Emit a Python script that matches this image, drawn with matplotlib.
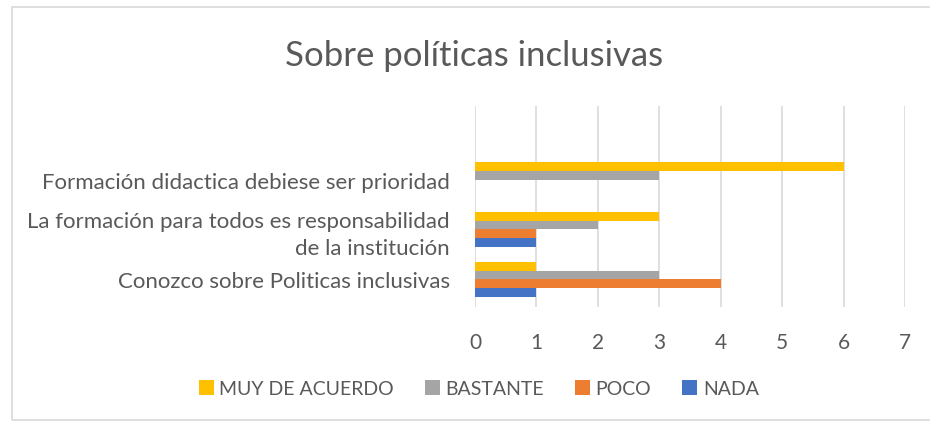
import numpy as np
import matplotlib.pyplot as plt
from matplotlib.patches import Rectangle

plt.rcParams['font.family'] = ['Lato', 'DejaVu Sans']

# Data (categories bottom to top)
categories = [
    "Conozco sobre Politicas inclusivas",
    "La formación para todos es responsabilidad\nde la institución",
    "Formación didactica debiese ser prioridad",
]
series = ["MUY DE ACUERDO", "BASTANTE", "POCO", "NADA"]
muy = [1, 3, 6]
bastante = [3, 2, 3]
poco = [4, 1, 0]
nada = [1, 1, 0]
values = [muy, bastante, poco, nada]
colors = ["#FFC000", "#A5A5A5", "#ED7D31", "#4472C4"]

fig = plt.figure(figsize=(9.3, 4.27), dpi=100)
ax = fig.add_axes([0.5108, 0.2787, 0.4623, 0.4707])

y = np.arange(len(categories))
h = 0.175
offsets = [1.5, 0.5, -0.5, -1.5]
for vals, off, col, name in zip(values, offsets, colors, series):
    ax.barh(y + off * h, vals, height=h, color=col, label=name, zorder=3)

ax.set_xlim(0, 7)
ax.set_ylim(-0.55, 3.47)
ax.set_xticks(range(0, 8))
ax.set_yticks(y)
ax.set_yticklabels(categories, fontsize=16, color="#595959", linespacing=1.4)
ax.tick_params(axis='x', labelsize=15, colors="#595959", length=0, pad=18)
ax.tick_params(axis='y', length=0, pad=18)
for lbl in ax.get_yticklabels():
    lbl.set_horizontalalignment('right')
ax.grid(axis='x', color="#D9D9D9", linewidth=1.2, zorder=0)
for s in ax.spines.values():
    s.set_visible(False)

fig.text(0.51, 0.868, "Sobre políticas inclusivas", ha='center', va='center',
         fontsize=25, color="#595959")

handles, labels = ax.get_legend_handles_labels()
fig.legend(handles, labels, loc='center', bbox_to_anchor=(0.515, 0.087), ncol=4,
           frameon=False, fontsize=14, labelcolor="#595959",
           handlelength=0.75, handleheight=0.75, handletextpad=0.3, columnspacing=1.6)

fig.patches.append(Rectangle((12 / 930, 1 - 421 / 427), 1.0, 413 / 427,
                             transform=fig.transFigure, fill=False,
                             edgecolor="#D9D9D9", linewidth=1.2))

fig.savefig("out.png", dpi=100)
